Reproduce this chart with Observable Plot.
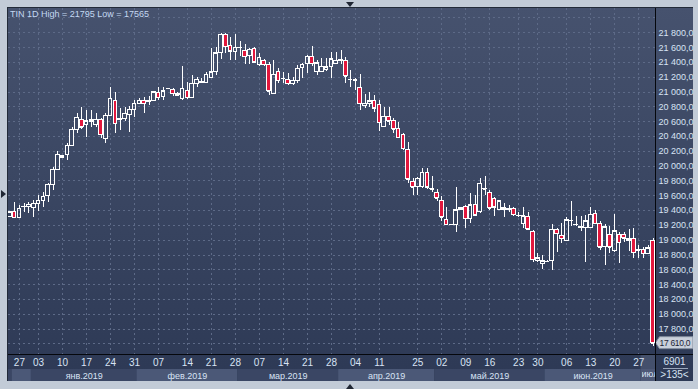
<!DOCTYPE html>
<html><head><meta charset="utf-8">
<script src="https://cdn.jsdelivr.net/npm/d3@7"></script>
<script src="https://cdn.jsdelivr.net/npm/@observablehq/plot@0.6"></script>
<style>
body{margin:0;background:#c2cbd7;}
#wrap{position:relative;width:698px;height:389px;background:#c2cbd7;overflow:hidden;font-family:"Liberation Sans",Arial,sans-serif;}
#panel{position:absolute;left:7px;top:7px;width:686px;height:374px;box-sizing:border-box;border-left:1px solid #222a38;border-top:1px solid #222a38;background:linear-gradient(#46526e,#2d3955);}
.abs{position:absolute;}
#main{position:absolute;left:8px;top:8px;}
#bottom{position:absolute;left:8px;top:354px;}
#title{position:absolute;left:10px;top:9px;font-size:9px;line-height:11px;color:#c4d8f2;white-space:nowrap;}
.blk{position:absolute;background:#05070c;}
.rb{position:absolute;left:656px;width:37px;text-align:center;font-size:10px;line-height:10px;color:#d6e1f2;}
#julbox{position:absolute;overflow:hidden;height:12px;font-size:9px;line-height:12px;color:#d8e3f4;white-space:nowrap;}
</style></head>
<body><div id="wrap">
<div id="panel"></div>
<div id="main"></div>
<div id="bottom"></div>
<div id="julbox"></div>
<div class="blk" style="left:655px;top:8px;width:1px;height:373px"></div>
<div class="blk" style="left:8px;top:354px;width:685px;height:1px"></div>
<div class="rb" style="top:357px">6901</div>
<div class="abs" style="left:663px;top:368px;width:25px;height:1px;background:#9aa6ba"></div>
<div class="rb" style="top:370px">&gt;135&lt;</div>
<div id="title">TIN 1D High = 21795 Low = 17565</div>
<div class="abs" style="left:346px;top:2px;width:0;height:0;border-left:4px solid transparent;border-right:4px solid transparent;border-top:5px solid #1f2633"></div>
<div class="abs" style="left:1px;top:190px;width:0;height:0;border-top:4px solid transparent;border-bottom:4px solid transparent;border-left:5px solid #1f2633"></div>
<div class="abs" style="left:346px;top:384px;width:0;height:0;border-left:4px solid transparent;border-right:4px solid transparent;border-bottom:5px solid #1f2633"></div>
</div>
<script>
// ---- data: daily OHLC, TIN 1D (bar index order) ----
const open = [19311,19387,19297,19446,19446,19437,19491,19527,19595,19748,19950,20112,20144,20278,20494,20625,20558,20625,20558,20625,20368,20683,20877,20620,20630,20697,20764,20841,20886,20863,20886,20985,20940,21043,21034,20976,20908,21012,20922,21111,21120,21120,21192,21268,21525,21777,21628,21538,21597,21552,21493,21583,21367,21417,21367,20976,21268,21178,21165,21111,21156,21327,21381,21480,21268,21268,21292,21337,21381,21426,21426,21165,21156,21057,20810,20841,20886,20828,20535,20670,20603,20495,20414,20220,19784,19717,19717,19910,19694,19640,19523,19267,19208,19208,19402,19447,19289,19469,19379,19685,19640,19559,19411,19411,19411,19424,19325,19222,19312,19109,18726,18681,18718,18718,19141,19055,18996,19258,19208,19163,19167,19167,19357,19222,18907,19064,18848,19073,19073,18983,19010,18862,18862,18817,18996];
const high = [19390,19505,19470,19490,19505,19536,19604,19649,19761,19977,20193,20145,20301,20526,20706,20796,20751,20751,20706,20638,20706,21066,20998,20773,20787,20805,20886,20908,20922,20940,21012,21066,21066,21045,21043,20990,21345,21133,21223,21192,21180,21268,21583,21606,21790,21795,21741,21777,21687,21642,21592,21597,21516,21440,21403,21426,21313,21268,21246,21201,21358,21390,21494,21615,21426,21448,21448,21539,21539,21561,21471,21291,21179,21233,20963,21000,20954,20886,20796,20796,20648,20585,20436,20324,19829,19851,19973,19973,19860,19685,19595,19447,19210,19717,19447,19469,19627,19604,19829,19860,19672,19582,19530,19492,19469,19447,19379,19447,19379,19132,18817,18795,18720,19208,19163,19222,19312,19523,19325,19325,19334,19447,19402,19253,19208,19190,19343,19100,19100,19145,19154,18929,18907,18929,19019];
const low = [19300,19289,19290,19380,19356,19302,19388,19446,19514,19671,19940,20105,20076,20270,20436,20490,20382,20526,20526,20368,20301,20683,20436,20481,20600,20458,20661,20830,20715,20818,20880,20886,20886,21040,20940,20940,20886,20895,20915,21066,21110,21115,21180,21223,21435,21516,21426,21426,21480,21372,21372,21390,21350,21350,20954,20976,21111,21111,21088,21088,21111,21178,21255,21350,21223,21260,21280,21188,21368,21368,21111,21066,21021,20751,20783,20796,20729,20468,20526,20549,20436,20369,20211,19762,19600,19600,19700,19690,19640,19523,19253,19200,19205,19100,19395,19163,19222,19330,19357,19600,19400,19325,19400,19312,19380,19325,19300,19163,19132,18704,18700,18605,18715,18591,18839,18952,18990,19190,19190,19118,18704,19160,19215,18862,18659,18817,18840,18681,18965,18848,18749,18749,18749,18810,17565];
const close = [19379,19302,19424,19450,19478,19491,19536,19590,19752,19950,20157,20135,20278,20490,20652,20526,20607,20603,20625,20422,20683,20908,20571,20630,20706,20760,20841,20886,20841,20886,20998,20922,21012,21043,20976,20954,21043,20922,21111,21165,21133,21237,21268,21525,21777,21615,21552,21597,21600,21480,21570,21403,21462,21372,21012,21237,21156,21180,21111,21156,21313,21372,21480,21381,21390,21345,21337,21440,21426,21428,21215,21167,21158,20841,20841,20873,20783,20585,20670,20603,20495,20380,20234,19820,19717,19829,19910,19717,19690,19568,19312,19208,19208,19402,19433,19289,19469,19334,19761,19690,19433,19447,19523,19433,19424,19343,19327,19325,19145,18735,18758,18718,18718,19141,19087,19019,19267,19260,19210,19185,19258,19343,19222,18907,19177,18907,19118,18965,19028,19010,18830,18864,18817,18893,17610];

// ---- axis data ----
const priceTicks = [17800,18000,18200,18400,18600,18800,19000,19200,19400,19600,19800,20000,20200,20400,20600,20800,21000,21200,21400,21600,21800];
const gridPrices = [17600,17800,18000,18200,18400,18600,18800,19000,19200,19400,19600,19800,20000,20200,20400,20600,20800,21000,21200,21400,21600,21800,22000];
const dayLabels = ["27","03","10","17","24","31","07","14","21","28","07","14","21","28","04","11","25","02","09","16","23","30","06","13","20","27"];
const dayBar    = [2,6,11,16,21,26,31,37,42,47,52,57,62,67,72,77,85,90,95,100,106,110,116,121,126,131];
const monthNames = ["ноя.2018","дек.2018","янв.2019","фев.2019","мар.2019","апр.2019","май.2019","июн.2019","июл.2019"];
const monthStart = [-3,0.5,4.5,26.5,47.5,68.5,88.5,111.5,131.5];

const candles = open.map((o,i)=>({i, open:o, high:high[i], low:low[i], close:close[i]}));
const n = candles.length;
const xDomain = [-0.27, n - 0.5];
const months = monthNames.map((name,i)=>({name, start:monthStart[i], end: i+1<monthStart.length ? monthStart[i+1] : n+1, idx:i}));
const days = dayLabels.map((label,i)=>({label, i:dayBar[i]}));

const RED = "#e2173d", WHITE = "#ffffff", GRID = "#5d6a87", TXT = "#d8e3f4";
const FONT = "'Liberation Sans', Arial, sans-serif";
const loc = d3.formatLocale({decimal:",", thousands:"\u00a0", grouping:[3], currency:["",""]});
const fmt = loc.format(",.1f");
const HW = 0.38;

const main = Plot.plot({
  width:685, height:346, marginLeft:0, marginRight:38, marginTop:0, marginBottom:0,
  style:{background:"transparent", fontFamily:FONT},
  x:{domain:xDomain, axis:null},
  y:{domain:[17457,22128], axis:null},
  marks:[
    Plot.ruleY(gridPrices, {stroke:GRID, strokeDasharray:"2,3", shapeRendering:"crispEdges"}),
    Plot.ruleX(dayBar, {stroke:GRID, strokeDasharray:"2,3", shapeRendering:"crispEdges"}),
    Plot.ruleX(candles, {x:"i", y1:"high", y2:d=>Math.max(d.open,d.close), stroke:WHITE, shapeRendering:"crispEdges", clip:true}),
    Plot.ruleX(candles, {x:"i", y1:"low", y2:d=>Math.min(d.open,d.close), stroke:WHITE, shapeRendering:"crispEdges", clip:true}),
    Plot.rect(candles, {x1:d=>d.i-HW, x2:d=>d.i+HW, y1:"open", y2:"close", fill:d=>d.close<d.open?RED:"none", stroke:WHITE, shapeRendering:"crispEdges", clip:true}),
    Plot.ruleY(candles, {y:"close", x1:d=>d.i-HW, x2:d=>d.i+HW, stroke:WHITE, shapeRendering:"crispEdges", clip:true}),
    Plot.text(priceTicks, {y:d=>d, text:d=>fmt(d), frameAnchor:"right", dx:3, textAnchor:"start", fill:TXT, fontSize:9})
  ]
});
document.getElementById("main").appendChild(main);

// current price tag, positioned with the plot's own scales
{
  const ys = main.scale("y"), xs = main.scale("x");
  const last = close[n-1];
  const yT = ys.apply(last), xR = xs.range[1];
  const g = d3.select(main).append("g");
  g.append("polygon")
    .attr("points", [[xR+0.5,yT],[xR+4.5,yT-6],[685,yT-6],[685,yT+6],[xR+4.5,yT+6]].map(p=>p.join(",")).join(" "))
    .attr("fill","#c9d0db").attr("stroke","#7f8a9c");
  g.append("text").attr("x",xR+4.5).attr("y",yT).attr("dy","0.35em")
    .attr("text-anchor","start").attr("font-family",FONT).attr("letter-spacing","-0.3")
    .attr("font-size",8.5).attr("fill","#1c2436").text(fmt(last));
}

const bottom = Plot.plot({
  width:685, height:27, marginLeft:0, marginRight:38, marginTop:0, marginBottom:0,
  style:{background:"transparent", fontFamily:FONT},
  x:{domain:xDomain, axis:null},
  y:{type:"band", domain:["d","m"], padding:0, axis:null},
  marks:[
    Plot.barX(months, {x1:"start", x2:"end", y:()=>"m", insetTop:1, fill:d=>d.idx%2?"#4b5877":"#3a4664", clip:true}),
    Plot.barX([n], {x1:()=>monthStart[monthStart.length-1], x2:()=>xDomain[1], fill:"rgba(150,160,185,0.22)", clip:true}),
    Plot.text(days, {x:"i", y:()=>"d", text:"label", fill:TXT, fontSize:10, dy:1, clip:true}),
    Plot.text(months.filter(d=>d.end-d.start>=10 && d.end<=n), {x:d=>(d.start+d.end)/2, y:()=>"m", text:"name", fill:TXT, fontSize:9, dy:1, clip:true})
  ]
});
document.getElementById("bottom").appendChild(bottom);

// last (partial) month label, cut at the frame edge like the original
{
  const xs = bottom.scale("x");
  const lastMonth = months.filter(d=>d.end>n)[0];
  const x0 = xs.apply(lastMonth.start) + 1, x1 = xs.range[1];
  const box = document.getElementById("julbox");
  box.style.left = (8 + x0) + "px";
  box.style.top = (354 + 14) + "px";
  box.style.width = (x1 - x0) + "px";
  box.textContent = lastMonth.name;
}
</script>
</body></html>
